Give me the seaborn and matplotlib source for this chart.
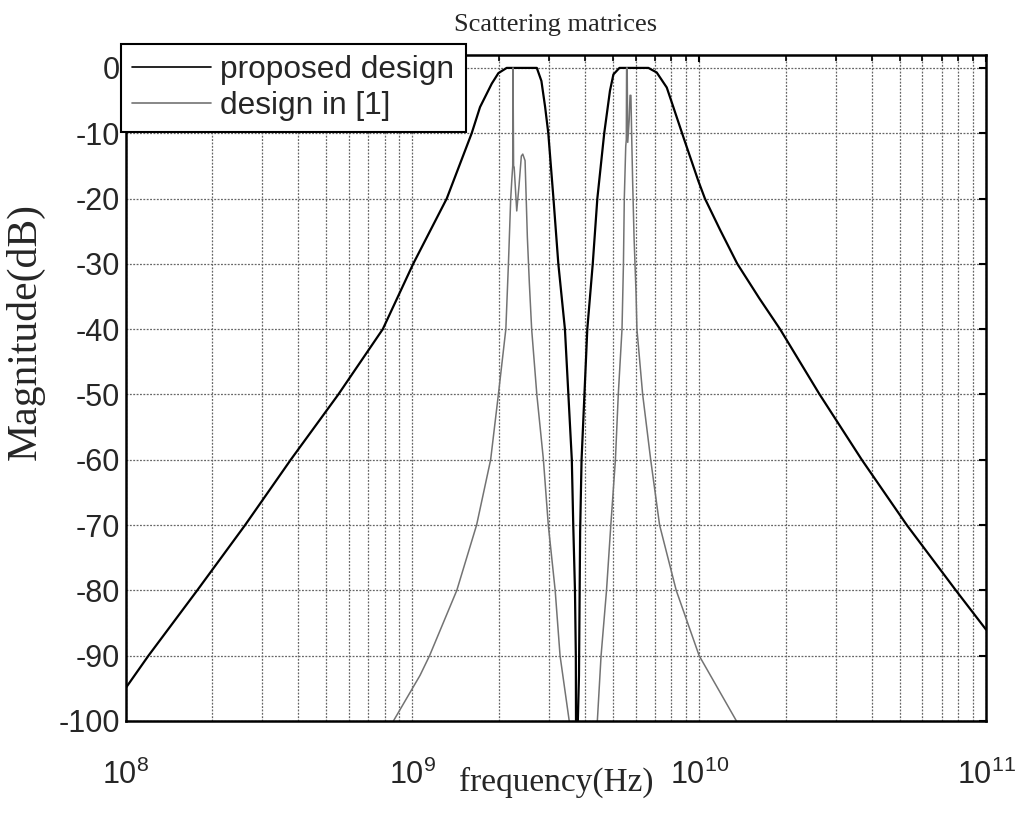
import numpy as np
import pandas as pd
import matplotlib
matplotlib.use("Agg")
import matplotlib.pyplot as plt
import seaborn as sns
from matplotlib.ticker import LogLocator, NullFormatter, FixedLocator

# ---------------- data ----------------
series_names = ["proposed design", "design in [1]"]

# proposed design: log10(frequency / Hz) and magnitude (dB)
proposed_log10_hz = [8.000, 8.080, 8.250, 8.417, 8.576, 8.742, 8.897, 9.003, 9.120,
                     9.207, 9.236, 9.277, 9.300, 9.329, 9.434, 9.450, 9.463, 9.474,
                     9.492, 9.509, 9.532, 9.544, 9.556, 9.561, 9.567, 9.570, 9.573,
                     9.577, 9.581, 9.585, 9.590, 9.600, 9.610, 9.629, 9.645, 9.669,
                     9.689, 9.701, 9.722, 9.823, 9.852, 9.887, 9.910, 9.945, 9.997,
                     10.020, 10.073, 10.133, 10.210, 10.282, 10.420, 10.567, 10.724,
                     10.895, 11.000]
proposed_db = [-95.0, -90.0, -80.0, -70.0, -60.0, -50.0, -40.0, -30.0, -20.0,
               -10.0, -6.0, -2.4, -0.8, 0.0, 0.0, -2.0, -6.0, -10.0,
               -20.0, -30.0, -40.0, -50.0, -60.0, -70.0, -80.0, -90.0, -140.0,
               -100.0, -93.0, -71.0, -60.0, -50.0, -40.0, -30.0, -20.0, -10.0,
               -3.5, -1.0, 0.0, 0.0, -0.7, -3.0, -6.0, -10.6, -17.3,
               -20.0, -24.8, -30.0, -35.3, -40.0, -50.0, -60.0, -70.0,
               -80.0, -86.0]

# design in [1]
ref_log10_hz = [8.900, 8.934, 9.027, 9.060, 9.155, 9.224, 9.273, 9.300, 9.326,
                9.335, 9.343, 9.347, 9.350, 9.351, 9.353, 9.355, 9.364, 9.372,
                9.380, 9.385, 9.393, 9.401, 9.408, 9.416, 9.434, 9.457, 9.474,
                9.498, 9.515, 9.547, 9.560, 9.600, 9.630, 9.645, 9.658, 9.677,
                9.692, 9.708, 9.718, 9.731, 9.736, 9.739, 9.744, 9.746, 9.747,
                9.749, 9.751, 9.756, 9.759, 9.762, 9.765, 9.768, 9.773, 9.780,
                9.783, 9.803, 9.831, 9.862, 9.920, 10.000, 10.130, 10.200]
ref_db = [-110.0, -100.0, -93.0, -90.0, -80.0, -70.0, -60.0, -50.0, -40.0,
          -30.0, -20.0, -17.0, -15.0, 0.0, -15.0, -15.2, -21.9, -18.0,
          -13.5, -13.2, -14.2, -25.9, -33.0, -40.0, -50.0, -60.0, -70.0,
          -80.0, -90.0, -100.0, -110.0, -125.0, -110.0, -100.0, -90.0, -80.0,
          -70.0, -60.0, -50.0, -40.0, -30.0, -20.0, -12.0, -11.0, 0.0,
          0.0, -11.4, -8.0, -4.2, -4.2, -11.0, -17.3, -26.0, -34.6,
          -40.0, -50.0, -60.0, -70.0, -80.0, -90.0, -100.0, -108.0]

y_ticks = [-100, -90, -80, -70, -60, -50, -40, -30, -20, -10, 0]
y_tick_labels = ["-100", "-90", "-80", "-70", "-60", "-50", "-40", "-30", "-20", "-10", "0"]
x_limits_hz = [1e8, 1e11]

title_text = "Scattering matrices"
x_label = "frequency(Hz)"
y_label = "Magnitude(dB)"

# ---------------- figure ----------------
sns.set_style("white")
plt.rcParams["font.family"] = ["Liberation Sans", "DejaVu Sans"]
plt.rcParams["mathtext.fontset"] = "custom"
plt.rcParams["mathtext.rm"] = "Liberation Sans"
plt.rcParams["mathtext.it"] = "Liberation Sans:italic"
plt.rcParams["mathtext.bf"] = "Liberation Sans:bold"
plt.rcParams["axes.unicode_minus"] = False

W, H = 1015, 821
fig = plt.figure(figsize=(W / 100, H / 100), dpi=100)
ax_left, ax_right, ax_top, ax_bottom = 125.5, 986.0, 55.5, 721.0
ax = fig.add_axes([ax_left / W, 1 - ax_bottom / H, (ax_right - ax_left) / W, (ax_bottom - ax_top) / H])

df_prop = pd.DataFrame({"freq": np.power(10.0, proposed_log10_hz), "db": proposed_db})
df_ref = pd.DataFrame({"freq": np.power(10.0, ref_log10_hz), "db": ref_db})

sns.lineplot(data=df_prop, x="freq", y="db", ax=ax, color="black", linewidth=1.6,
             estimator=None, sort=False, label=series_names[0])
sns.lineplot(data=df_ref, x="freq", y="db", ax=ax, color="0.45", linewidth=1.1,
             estimator=None, sort=False, label=series_names[1])

ax.set_xscale("log")
ax.set_xlim(*x_limits_hz)
ax.set_ylim(-100, 1.9)
ax.yaxis.set_major_locator(FixedLocator(y_ticks))
ax.set_yticklabels(y_tick_labels)
ax.xaxis.set_major_locator(LogLocator(base=10, numticks=10))
ax.xaxis.set_minor_locator(LogLocator(base=10, subs=np.arange(2, 10), numticks=100))
ax.xaxis.set_minor_formatter(NullFormatter())

ax.grid(True, which="major", axis="both", color="0.4", linestyle=(0, (1.5, 1.2)), linewidth=0.9)
ax.grid(True, which="minor", axis="x", color="0.4", linestyle=(0, (1.5, 1.2)), linewidth=0.9)

for sp in ax.spines.values():
    sp.set_visible(True)
    sp.set_color("black")
    sp.set_linewidth(1.8)

ax.tick_params(axis="both", which="both", direction="in", top=True, right=True, color="black")
ax.tick_params(axis="y", which="major", length=5, width=1.5, labelsize=22, pad=4)
ax.tick_params(axis="x", which="major", length=5, width=1.5, labelsize=22, pad=28)
ax.tick_params(axis="x", which="minor", length=4, width=1.2)

ax.set_title(title_text, family="Liberation Serif", fontsize=19, pad=18)
ax.set_xlabel(x_label, family="Liberation Serif", fontsize=24)
ax.set_ylabel(y_label, family="Liberation Serif", fontsize=30)
ax.xaxis.set_label_coords(0.5, -0.068)
ax.yaxis.set_label_coords(-0.094, 0.585)

leg = ax.legend(loc="upper left", bbox_to_anchor=(120.7 / W, 1 - 44 / H),
                bbox_transform=fig.transFigure, borderaxespad=0, fontsize=22.8,
                frameon=True, fancybox=False, framealpha=1, edgecolor="black",
                handlelength=2.5, handletextpad=0.3, labelspacing=0.2, borderpad=0.35)
leg.get_frame().set_linewidth(1.5)
for line in leg.get_lines():
    line.set_linewidth(1.2)

fig.savefig("out.png", dpi=100)
